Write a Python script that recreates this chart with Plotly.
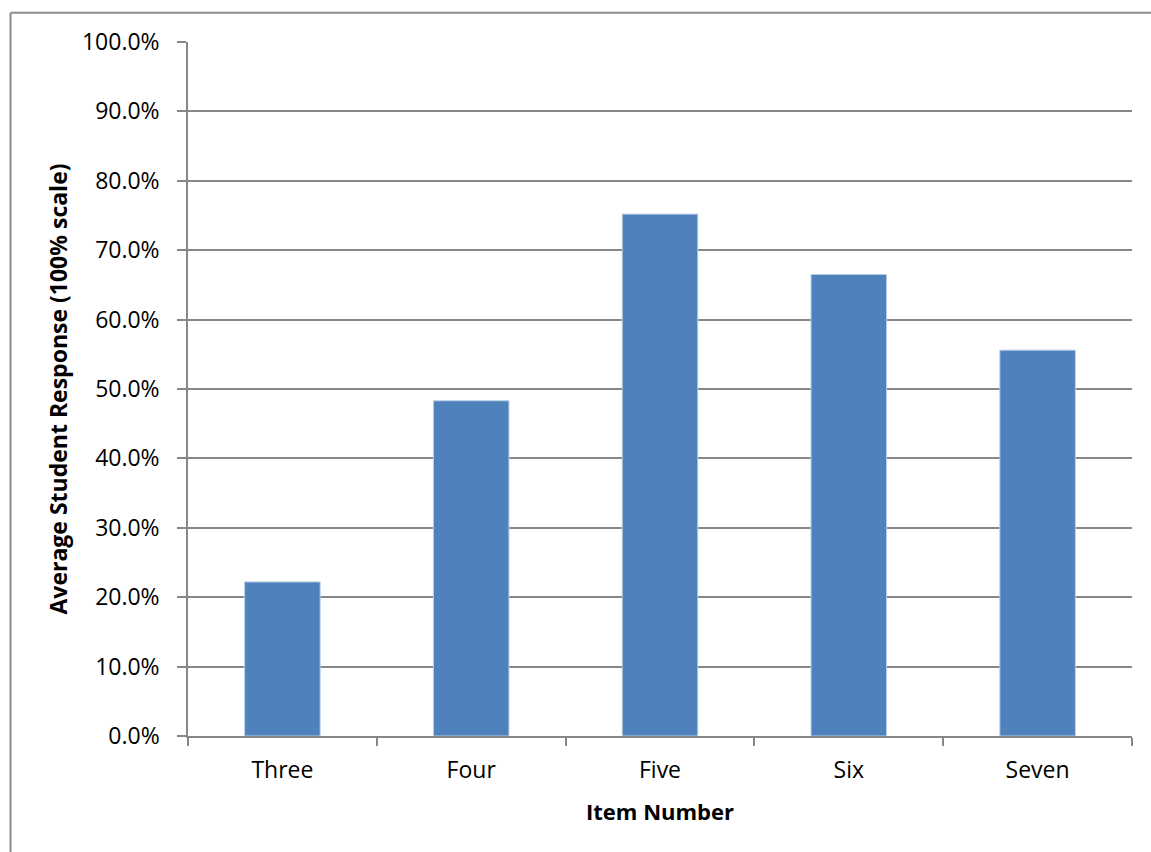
import plotly.graph_objects as go

items = ["Three", "Four", "Five", "Six", "Seven"]
avg_response = [0.222, 0.483, 0.752, 0.665, 0.556]
y_ticks = [i / 10 for i in range(11)]
y_tick_labels = [f"{v * 100:.1f}%" for v in y_ticks]

FONT = "'Open Sans', Calibri, sans-serif"
GRID = "#878787"

fig = go.Figure(
    go.Bar(
        x=items,
        y=avg_response,
        marker=dict(color="#4F81BD", line=dict(color="#B9CDE5", width=1)),
        width=0.4,
        hoverinfo="x+y",
    )
)

fig.update_layout(
    width=1151,
    height=852,
    margin=dict(l=188, r=19, t=42, b=116),
    paper_bgcolor="white",
    plot_bgcolor="white",
    font=dict(family=FONT, size=23, color="black"),
    showlegend=False,
    shapes=[
        # chart frame (left and top edges)
        dict(type="line", xref="paper", yref="paper",
             x0=-0.1880, x1=-0.1880, y0=1.042, y1=-0.25,
             line=dict(color="#8C8C8C", width=2)),
        dict(type="line", xref="paper", yref="paper",
             x0=-0.1880, x1=1.05, y0=1.042, y1=1.042,
             line=dict(color="#8C8C8C", width=2)),
    ],
)

fig.update_xaxes(
    type="category",
    showline=True,
    linecolor=GRID,
    linewidth=1.5,
    ticks="outside",
    tickson="boundaries",
    ticklen=8,
    tickcolor=GRID,
    tickwidth=1.5,
    showgrid=False,
    ticklabelstandoff=13,
    tickfont=dict(size=23),
    title=dict(text="<b>Item Number</b>", font=dict(size=22), standoff=20),
    mirror=False,
)

fig.update_yaxes(
    range=[0, 1.0],
    tickvals=y_ticks,
    ticktext=y_tick_labels,
    showline=True,
    linecolor=GRID,
    linewidth=1.5,
    ticks="outside",
    ticklen=9,
    tickcolor=GRID,
    tickwidth=1.5,
    showgrid=True,
    gridcolor=GRID,
    gridwidth=1.5,
    zeroline=False,
    ticklabelstandoff=13,
    tickfont=dict(size=23),
    title=dict(text="<b>Average Student Response (100% scale)</b>",
               font=dict(size=23), standoff=8),
)

fig.write_html("out.html")
